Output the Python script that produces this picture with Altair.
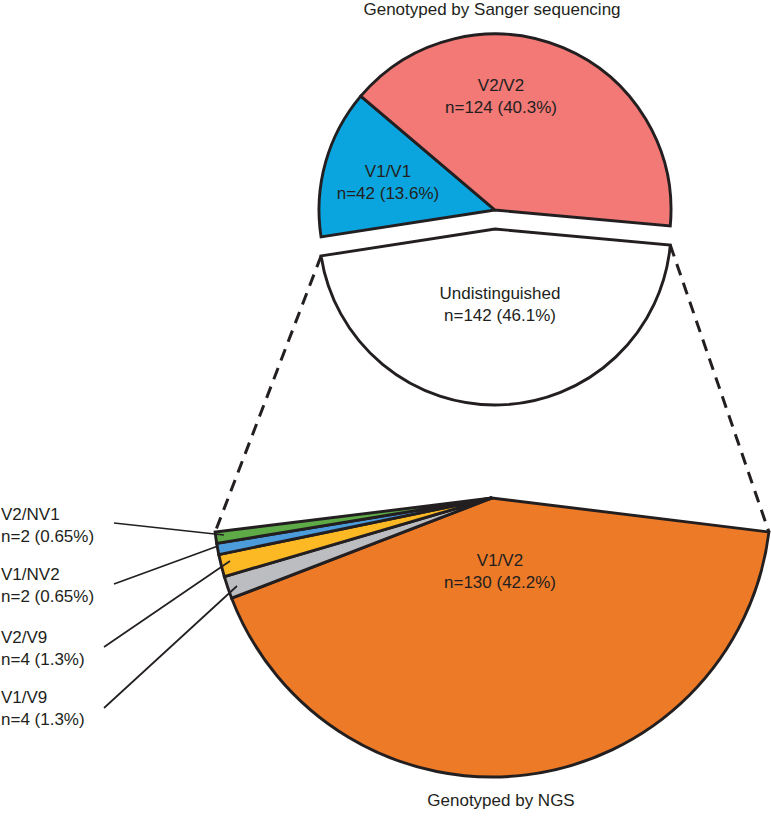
import math
import altair as alt
import pandas as pd

TOTAL = 308

# ---- data ----
top_names = ["V1/V1", "V2/V2", "Undistinguished"]
top_values = [42, 124, 142]
top_pcts = ["13.6%", "40.3%", "46.1%"]
top_colors = ["#0AA5DF", "#F27976", "#FFFFFF"]

ngs_names = ["V1/V2", "V1/V9", "V2/V9", "V1/NV2", "V2/NV1"]
ngs_values = [130, 4, 4, 2, 2]
ngs_pcts = ["42.2%", "1.3%", "1.3%", "0.65%", "0.65%"]
ngs_colors = ["#EC7A27", "#BBBDC0", "#FDB924", "#4C9BDB", "#5EAA47"]

title_top = "Genotyped by Sanger sequencing"
title_bottom = "Genotyped by NGS"

# ---- layout ----
W, H = 771, 818
INK = "#231F20"
FONT = "Liberation Sans"
FS = 17
SW = 2.9
TOP_C = (495, 210)
TOP_EXPLODE = 19
TOP_R = 176
TOP_START = 261.2
BOT_C = (492, 498)
BOT_R = 279
BOT_START = 97.0


def rad(d):
    return d * math.pi / 180.0


def pt(c, r, deg):
    return c[0] + r * math.sin(rad(deg)), c[1] - r * math.cos(rad(deg))


top_df = pd.DataFrame({"name": top_names, "n": top_values, "order": range(len(top_names))})
ngs_df = pd.DataFrame({"name": ngs_names, "n": ngs_values, "order": range(len(ngs_names))})

top_theta = alt.Scale(domain=[0, TOTAL], range=[rad(TOP_START), rad(TOP_START) + 2 * math.pi])
bot_theta = alt.Scale(domain=[0, TOTAL], range=[rad(BOT_START), rad(BOT_START) + 2 * math.pi])

top_base = alt.Chart(top_df).transform_stack(
    stack="n", as_=["s0", "s1"], groupby=[], sort=[alt.SortField("order")]
)
top_color = alt.Color("name:N", scale=alt.Scale(domain=top_names, range=top_colors), legend=None)

top_main = top_base.transform_filter(alt.datum.name != "Undistinguished").mark_arc(
    outerRadius=TOP_R, stroke=INK, strokeWidth=SW, strokeJoin="miter"
).encode(
    theta=alt.Theta("s0:Q", scale=top_theta),
    theta2="s1:Q",
    color=top_color,
    x=alt.value(TOP_C[0]),
    y=alt.value(TOP_C[1]),
)
top_expl = top_base.transform_filter(alt.datum.name == "Undistinguished").mark_arc(
    outerRadius=TOP_R, stroke=INK, strokeWidth=SW, strokeJoin="miter"
).encode(
    theta=alt.Theta("s0:Q", scale=top_theta),
    theta2="s1:Q",
    color=top_color,
    x=alt.value(TOP_C[0]),
    y=alt.value(TOP_C[1] + TOP_EXPLODE),
)

bot = alt.Chart(ngs_df).transform_stack(
    stack="n", as_=["s0", "s1"], groupby=[], sort=[alt.SortField("order")]
).mark_arc(outerRadius=BOT_R, stroke=INK, strokeWidth=SW, strokeJoin="miter").encode(
    theta=alt.Theta("s0:Q", scale=bot_theta),
    theta2="s1:Q",
    color=alt.Color("name:N", scale=alt.Scale(domain=ngs_names, range=ngs_colors), legend=None),
    x=alt.value(BOT_C[0]),
    y=alt.value(BOT_C[1]),
)

# connector (dashed) lines from the exploded slice ends to the NGS pie ends
und_start = TOP_START + (top_values[0] + top_values[1]) / TOTAL * 360
und_end = und_start + top_values[2] / TOTAL * 360
bot_end = BOT_START + sum(ngs_values) / TOTAL * 360
ec = (TOP_C[0], TOP_C[1] + TOP_EXPLODE)
p1 = pt(ec, TOP_R, und_end)
q1 = pt(BOT_C, BOT_R, bot_end)
p2 = pt(ec, TOP_R, und_start)
q2 = pt(BOT_C, BOT_R, BOT_START)
conn_df = pd.DataFrame({
    "x": [p1[0], p2[0]], "y": [p1[1], p2[1]],
    "x2": [q1[0], q2[0]], "y2": [q1[1], q2[1]],
})
conn = alt.Chart(conn_df).mark_rule(stroke=INK, strokeWidth=3, strokeDash=[12, 8]).encode(
    x=alt.X("x:Q", scale=None), y=alt.Y("y:Q", scale=None),
    x2="x2:Q", y2="y2:Q",
)

# label texts
def lab(name, n, pct):
    return f"{name}\nn={n} ({pct})"

in_labels = pd.DataFrame({
    "t": [lab(top_names[0], top_values[0], top_pcts[0]),
          lab(top_names[1], top_values[1], top_pcts[1]),
          lab(top_names[2], top_values[2], top_pcts[2]),
          lab(ngs_names[0], ngs_values[0], ngs_pcts[0])],
    "x": [388, 501, 500, 500],
    "y": [177, 91, 299, 566],
})
in_text = alt.Chart(in_labels).mark_text(
    font=FONT, fontSize=FS, color=INK, align="center", baseline="alphabetic",
    lineBreak="\n", lineHeight=21.5,
).encode(x=alt.X("x:Q", scale=None), y=alt.Y("y:Q", scale=None), text="t:N")

small_idx = [4, 3, 2, 1]  # V2/NV1, V1/NV2, V2/V9, V1/V9 from top to bottom
out_labels = pd.DataFrame({
    "t": [lab(ngs_names[i], ngs_values[i], ngs_pcts[i]) for i in small_idx],
    "x": [1, 1, 1, 1],
    "y": [520, 580, 643, 703],
    "lx": [114, 114, 104, 104],
    "ly": [523, 584, 647, 708],
    "lx2": [224, 218, 230, 237],
    "ly2": [535, 546, 561, 586],
})
out_text = alt.Chart(out_labels).mark_text(
    font=FONT, fontSize=FS, color=INK, align="left", baseline="alphabetic",
    lineBreak="\n", lineHeight=21.5,
).encode(x=alt.X("x:Q", scale=None), y=alt.Y("y:Q", scale=None), text="t:N")
leaders = alt.Chart(out_labels).mark_rule(stroke=INK, strokeWidth=1.7).encode(
    x=alt.X("lx:Q", scale=None), y=alt.Y("ly:Q", scale=None),
    x2="lx2:Q", y2="ly2:Q",
)

titles_df = pd.DataFrame({"t": [title_top, title_bottom], "x": [492, 501], "y": [15, 806]})
titles = alt.Chart(titles_df).mark_text(
    font=FONT, fontSize=FS, color=INK, align="center", baseline="alphabetic",
).encode(x=alt.X("x:Q", scale=None), y=alt.Y("y:Q", scale=None), text="t:N")

chart = alt.layer(
    conn, top_main, top_expl, bot, leaders, in_text, out_text, titles
).resolve_scale(
    theta="independent", color="independent"
).properties(
    width=W, height=H, padding=0, autosize=alt.AutoSizeParams(type="none"),
    background="white",
).configure_view(stroke=None)

chart.save("out.html", embed_options={"renderer": "svg", "actions": False})
